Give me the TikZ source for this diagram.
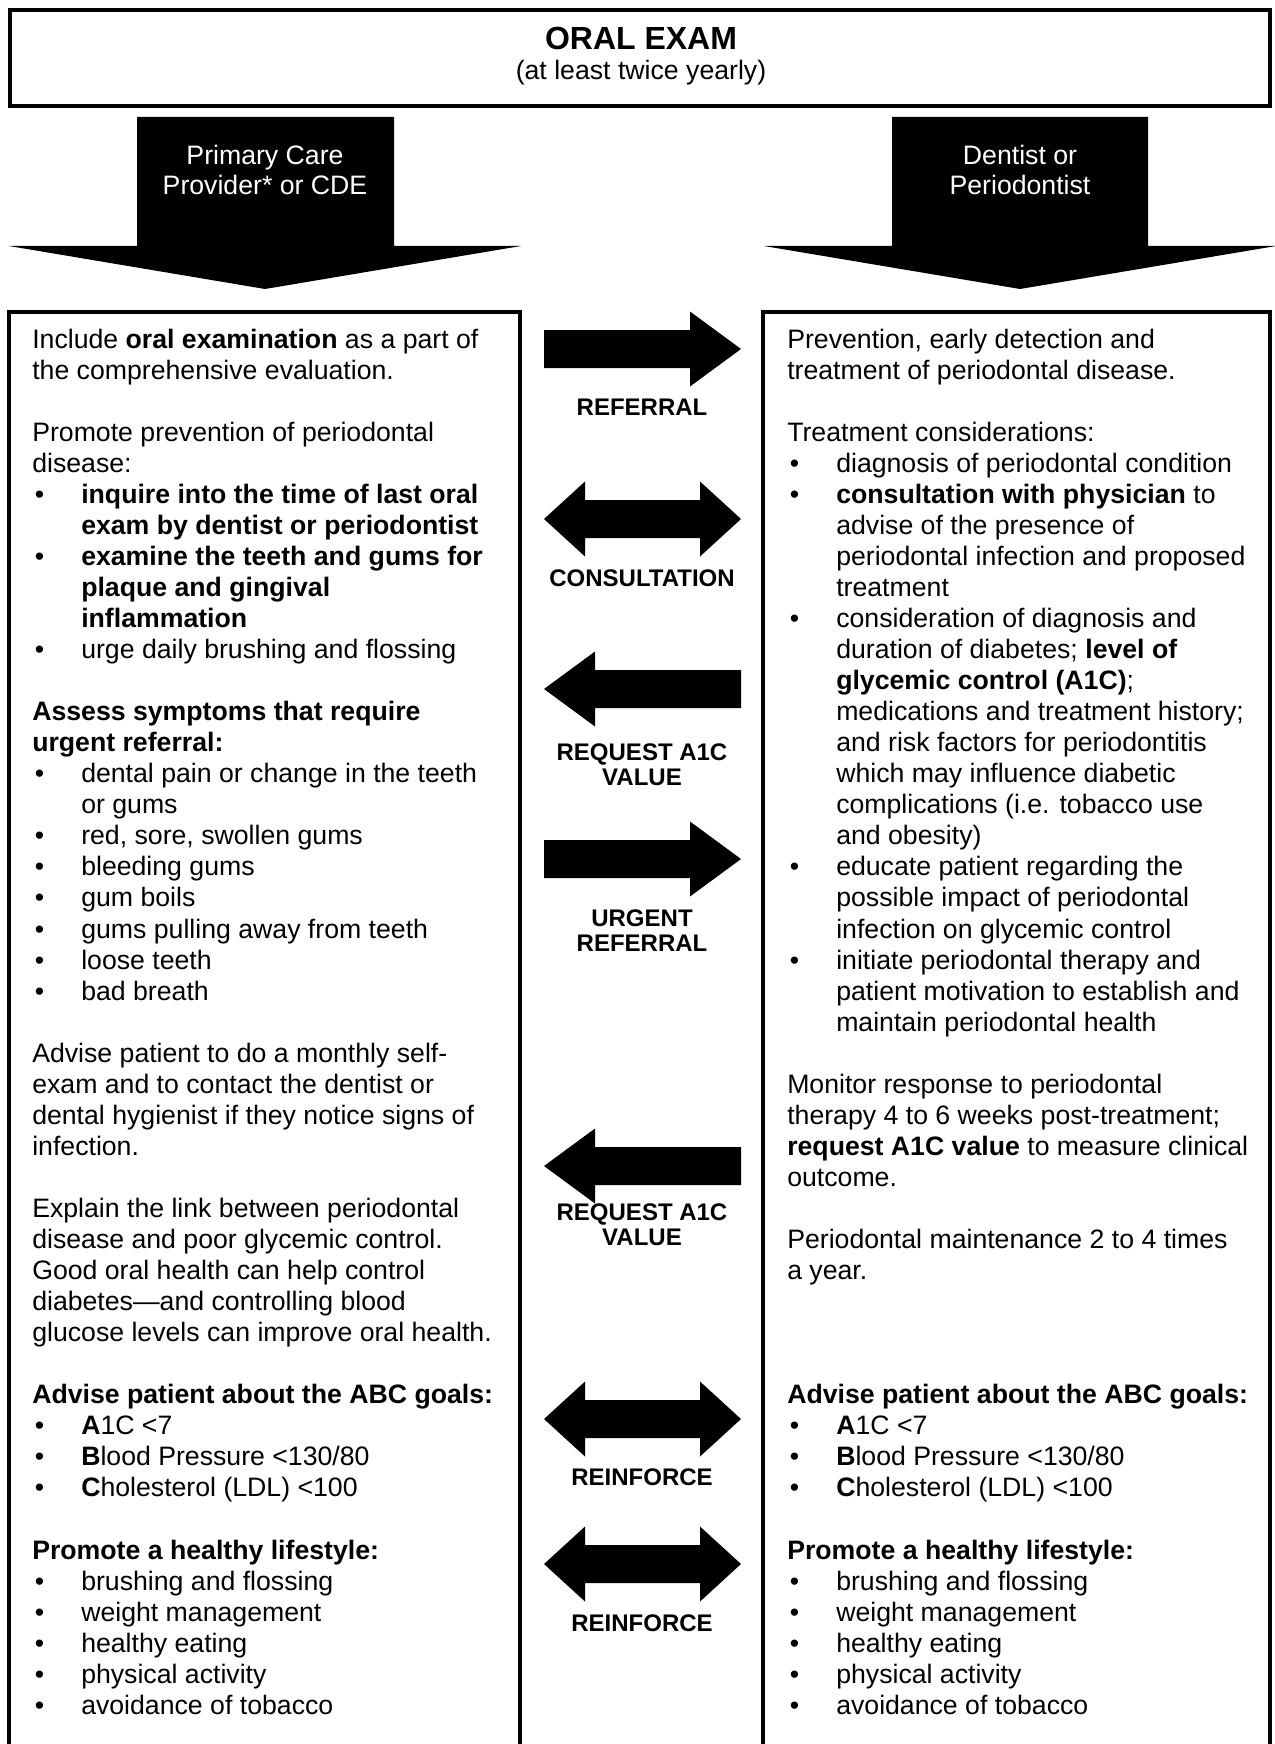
\documentclass[tikz,border=0pt]{standalone}
\usepackage{fontspec}
\setmainfont{Liberation Sans}
\newcommand{\itm}[1]{\makebox[36.75pt][l]{\hspace{2pt}\textbullet}#1}
\newcommand{\ind}{\hspace*{36.75pt}}

\begin{document}
\begin{tikzpicture}[x=0.75pt,y=-0.75pt,
  box/.style={draw, line width=3.4pt},
  col/.style={anchor=base west, inner sep=0pt, font=\fontsize{20pt}{23.29pt}\selectfont},
  lbl/.style={anchor=base, inner sep=0pt, font=\fontsize{18pt}{18.75pt}\selectfont\bfseries},
  head/.style={anchor=base, inner sep=0pt, text=white, font=\fontsize{20pt}{22.5pt}\selectfont},
  rarr/.pic={\fill (-98,-19) -- (48,-19) -- (48,-37.5) -- (99,0) -- (48,37.5) -- (48,19) -- (-98,19) -- cycle;},
  larr/.pic={\fill (99,-19) -- (-47,-19) -- (-47,-37.5) -- (-98,0) -- (-47,37.5) -- (-47,19) -- (99,19) -- cycle;},
  darr/.pic={\fill (-98,0) -- (-57,-37.5) -- (-57,-19) -- (58,-19) -- (58,-37.5) -- (99,0) -- (58,37.5) -- (58,19) -- (-57,19) -- (-57,37.5) -- cycle;}
]
\useasboundingbox[fill=white] (0,0) rectangle (1274,1744);

\draw[box] (10,10) rectangle (1270,106);
\node[anchor=base, inner sep=0pt, font=\fontsize{24pt}{28pt}\selectfont\bfseries] (exam) at (641,50) {ORAL EXAM};
\node[anchor=base, inner sep=0pt, font=\fontsize{20pt}{24pt}\selectfont] (often) at (641,80) {(at least twice yearly)};

\fill (137,117) -- (394,117) -- (394,246) -- (521,246) -- (265,289) -- (9,246) -- (137,246) -- cycle;
\fill (892,117) -- (1148,117) -- (1148,246) -- (1276,246) -- (1020,289) -- (764,246) -- (892,246) -- cycle;
\node[head] (pcp) at (265,165) {\parbox[t]{200pt}{\centering Primary Care\\Provider* or CDE}};
\node[head] (dds) at (1020,165) {\parbox[t]{200pt}{\centering Dentist or\\Periodontist}};

\draw[box] (9,312) rectangle (520,1800);
\draw[box] (763,312) rectangle (1270,1800);

\node[col] (pcpcol) at (32,348) {\parbox[t]{400pt}{\raggedright
Include \textbf{oral examination} as a part of\\
the comprehensive evaluation.\\
~\\
Promote prevention of periodontal\\
disease:\\
\itm{\textbf{inquire into the time of last oral}}\\
\ind\textbf{exam by dentist or periodontist}\\
\itm{\textbf{examine the teeth and gums for}}\\
\ind\textbf{plaque and gingival}\\
\ind\textbf{inflammation}\\
\itm{urge daily brushing and flossing}\\
~\\
\textbf{Assess symptoms that require}\\
\textbf{urgent referral:}\\
\itm{dental pain or change in the teeth}\\
\ind or gums\\
\itm{red, sore, swollen gums}\\
\itm{bleeding gums}\\
\itm{gum boils}\\
\itm{gums pulling away from teeth}\\
\itm{loose teeth}\\
\itm{bad breath}\\
~\\
Advise patient to do a monthly self-\\
exam and to contact the dentist or\\
dental hygienist if they notice signs of\\
infection.\\
~\\
Explain the link between periodontal\\
disease and poor glycemic control.\\
Good oral health can help control\\
diabetes---and controlling blood\\
glucose levels can improve oral health.\\
~\\
\textbf{Advise patient about the ABC goals:}\\
\itm{\textbf{A}1C <7}\\
\itm{\textbf{B}lood Pressure <130/80}\\
\itm{\textbf{C}holesterol (LDL) <100}\\
~\\
\textbf{Promote a healthy lifestyle:}\\
\itm{brushing and flossing}\\
\itm{weight management}\\
\itm{healthy eating}\\
\itm{physical activity}\\
\itm{avoidance of tobacco}}};

\node[col] (ddscol) at (787,348) {\parbox[t]{400pt}{\raggedright
Prevention, early detection and\\
treatment of periodontal disease.\\
~\\
Treatment considerations:\\
\itm{diagnosis of periodontal condition}\\
\itm{\textbf{consultation with physician} to}\\
\ind advise of the presence of\\
\ind periodontal infection and proposed\\
\ind treatment\\
\itm{consideration of diagnosis and}\\
\ind duration of diabetes; \textbf{level of}\\
\ind\textbf{glycemic control (A1C)};\\
\ind medications and treatment history;\\
\ind and risk factors for periodontitis\\
\ind which may influence diabetic\\
\ind complications (i.e. tobacco use\\
\ind and obesity)\\
\itm{educate patient regarding the}\\
\ind possible impact of periodontal\\
\ind infection on glycemic control\\
\itm{initiate periodontal therapy and}\\
\ind patient motivation to establish and\\
\ind maintain periodontal health\\
~\\
Monitor response to periodontal\\
therapy 4 to 6 weeks post-treatment;\\
\textbf{request A1C value} to measure clinical\\
outcome.\\
~\\
Periodontal maintenance 2 to 4 times\\
a year.\\
~\\
~\\
~\\
\textbf{Advise patient about the ABC goals:}\\
\itm{\textbf{A}1C <7}\\
\itm{\textbf{B}lood Pressure <130/80}\\
\itm{\textbf{C}holesterol (LDL) <100}\\
~\\
\textbf{Promote a healthy lifestyle:}\\
\itm{brushing and flossing}\\
\itm{weight management}\\
\itm{healthy eating}\\
\itm{physical activity}\\
\itm{avoidance of tobacco}}};

\pic at (642,349) {rarr};
\node[lbl] (referral) at (642,415.6) {REFERRAL};
\pic at (642,519) {darr};
\node[lbl] (consult) at (642,586.6) {CONSULTATION};
\pic at (642,689) {larr};
\node[lbl] (request) at (642,760.6) {\parbox[t]{200pt}{\centering REQUEST A1C\\VALUE}};
\pic at (642,859) {rarr};
\node[lbl] (urgent) at (642,926.6) {\parbox[t]{200pt}{\centering URGENT\\REFERRAL}};
\pic at (642,1166) {larr};
\node[lbl] (recheck) at (642,1220.6) {\parbox[t]{200pt}{\centering REQUEST A1C\\VALUE}};
\pic at (642,1419) {darr};
\node[lbl] (reinforce) at (642,1485.6) {REINFORCE};
\pic at (642,1564) {darr};
\node[lbl] (reinforce2) at (642,1631.6) {REINFORCE};
\end{tikzpicture}
\end{document}
